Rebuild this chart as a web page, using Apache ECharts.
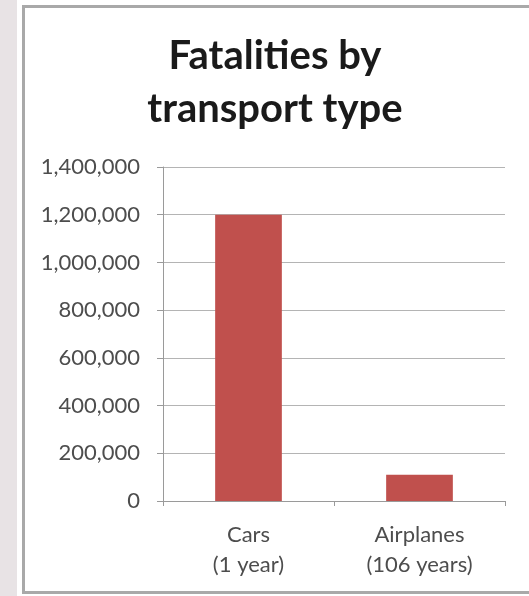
<!DOCTYPE html>
<html>
<head>
<meta charset="utf-8">
<script src="https://cdn.jsdelivr.net/npm/echarts@6/dist/echarts.min.js"></script>
<style>
html,body{margin:0;padding:0;background:#fff;}
#c{width:529px;height:596px;}
</style>
</head>
<body>
<div id="c"></div>
<script>
const titleText = "Fatalities by\ntransport type";
const categories = ["Cars\n(1 year)", "Airplanes\n(106 years)"];
const fatalities = [1200000, 110000];
const yTicks = [0, 200000, 400000, 600000, 800000, 1000000, 1200000, 1400000];

const chart = echarts.init(document.getElementById('c'), null, {renderer: 'canvas'});
chart.setOption({
  animation: false,
  backgroundColor: '#ffffff',
  graphic: [
    {type: 'rect', shape: {x: 0, y: 0, width: 17, height: 596}, style: {fill: '#e8e3e5'}, silent: true, z: -10},
    {type: 'rect', shape: {x: 23.5, y: 6.5, width: 520, height: 586}, style: {fill: 'none', stroke: '#a9a9a9', lineWidth: 3}, silent: true, z: -5}
  ],
  title: {
    text: titleText,
    left: 275, top: 30, padding: 0, textAlign: 'center',
    textStyle: {fontFamily: 'Lato', fontWeight: 'bold', fontSize: 40, lineHeight: 53, color: '#1a1a1a'}
  },
  grid: {left: 163, right: 24, top: 167, bottom: 95, containLabel: false},
  xAxis: {
    type: 'category',
    data: categories,
    axisLine: {lineStyle: {color: '#9a9a9a', width: 1}},
    axisTick: {show: true, length: 5, lineStyle: {color: '#9a9a9a'}},
    axisLabel: {fontFamily: 'Lato', fontSize: 22, color: '#4d4d4d', lineHeight: 30, margin: 19}
  },
  yAxis: {
    type: 'value',
    min: 0, max: yTicks[yTicks.length - 1], interval: 200000,
    axisLine: {show: true, lineStyle: {color: '#9a9a9a'}},
    axisTick: {show: true, length: 6, lineStyle: {color: '#9a9a9a'}},
    splitLine: {lineStyle: {color: '#b4b4b4', width: 1}},
    axisLabel: {
      fontFamily: 'Lato', fontSize: 22, color: '#4d4d4d', margin: 23,
      formatter: v => v.toLocaleString('en-US')
    }
  },
  series: [{
    type: 'bar',
    data: fatalities,
    barWidth: '39%',
    itemStyle: {color: '#c0504d'}
  }]
});
</script>
</body>
</html>
